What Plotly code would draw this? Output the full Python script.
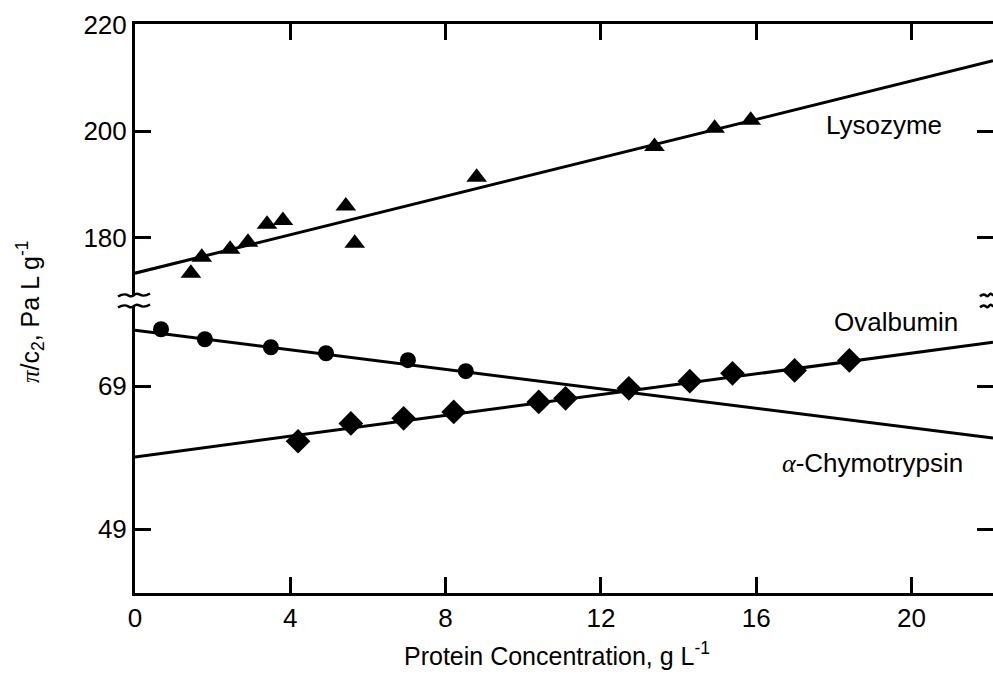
import plotly.graph_objects as go

# ---- data ----
conc_lys = [1.44, 1.72, 2.45, 2.91, 3.40, 3.81, 5.43, 5.66, 8.80, 13.38, 14.93, 15.86]
pi_lys = [173.3, 176.3, 177.8, 179.1, 182.5, 183.2, 185.9, 178.9, 191.3, 197.1, 200.5, 202.0]

conc_ova = [0.67, 1.80, 3.50, 4.92, 7.03, 8.52]
pi_ova = [76.95, 75.55, 74.44, 73.6, 72.63, 71.09]

conc_chy = [4.20, 5.56, 6.92, 8.21, 10.40, 11.09, 12.72, 14.29, 15.39, 16.99, 18.40]
pi_chy = [61.3, 63.8, 64.5, 65.4, 66.8, 67.3, 68.7, 69.7, 70.8, 71.2, 72.6]

fit_x = [0, 22.1]
lys_fit = [173.3, 213.2]
ova_fit = [76.8, 61.75]
chy_fit = [59.1, 75.14]

x_ticks = [0, 4, 8, 12, 16, 20]
upper_ticks = [180, 200, 220]
lower_ticks = [49, 69]

# ---- layout geometry ----
W, H = 993, 696
ML, MR, MT, MB = 135, 0, 24, 103
PW, PH = W - ML - MR, H - MT - MB
BOT = H - MB


def px(xp):
    return (xp - ML) / PW


def py(yp):
    return (BOT - yp) / PH


FONT = "Liberation Sans, Arial, Helvetica, sans-serif"
BLACK = "#000000"

fig = go.Figure()

# upper panel (x2, y)
fig.add_trace(go.Scatter(x=fit_x, y=lys_fit, mode="lines", xaxis="x2", yaxis="y",
                         line=dict(color=BLACK, width=3), showlegend=False, hoverinfo="skip"))
fig.add_trace(go.Scatter(x=conc_lys, y=pi_lys, mode="markers", xaxis="x2", yaxis="y",
                         marker=dict(symbol="triangle-up", size=18, color=BLACK),
                         name="Lysozyme", showlegend=False))

# lower panel (x, y2)
fig.add_trace(go.Scatter(x=fit_x, y=ova_fit, mode="lines", xaxis="x", yaxis="y2",
                         line=dict(color=BLACK, width=3), showlegend=False, hoverinfo="skip"))
fig.add_trace(go.Scatter(x=fit_x, y=chy_fit, mode="lines", xaxis="x", yaxis="y2",
                         line=dict(color=BLACK, width=3), showlegend=False, hoverinfo="skip"))
fig.add_trace(go.Scatter(x=conc_ova, y=pi_ova, mode="markers", xaxis="x", yaxis="y2",
                         marker=dict(symbol="circle", size=16, color=BLACK),
                         name="Ovalbumin", showlegend=False))
fig.add_trace(go.Scatter(x=conc_chy, y=pi_chy, mode="markers", xaxis="x", yaxis="y2",
                         marker=dict(symbol="diamond", size=19, color=BLACK),
                         name="α-Chymotrypsin", showlegend=False))

upper_dom = [py(295), 1.0]
lower_dom = [0.0, py(306)]

axis_common = dict(showline=True, linecolor=BLACK, linewidth=3, ticks="inside",
                   tickcolor=BLACK, tickwidth=3, ticklen=16, showgrid=False,
                   zeroline=False,
                   tickfont=dict(family=FONT, size=26, color=BLACK))

fig.update_layout(
    width=W, height=H,
    margin=dict(l=ML, r=MR, t=MT, b=MB, autoexpand=False),
    paper_bgcolor="white", plot_bgcolor="white",
    showlegend=False,
    xaxis=dict(anchor="y2", domain=[0, 1], range=[0, 22.1], tickvals=x_ticks,
               **axis_common),
    xaxis2=dict(anchor="y", domain=[0, 1], matches="x", side="top", range=[0, 22.1],
                tickvals=x_ticks, showticklabels=False, **axis_common),
    yaxis=dict(anchor="x2", domain=upper_dom, range=[169.2, 220.1], tickvals=upper_ticks,
               mirror="ticks", **axis_common),
    yaxis2=dict(anchor="x", domain=lower_dom, range=[40.1, 80.2], tickvals=lower_ticks,
                mirror="ticks", **axis_common),
)

ann_font = dict(family=FONT, size=26, color=BLACK)
fig.add_annotation(x=19.28, y=201.2, xref="x2", yref="y", text="Lysozyme",
                   showarrow=False, font=ann_font, xanchor="center", yanchor="middle")
fig.add_annotation(x=19.6, y=77.9, xref="x", yref="y2", text="Ovalbumin",
                   showarrow=False, font=ann_font, xanchor="center", yanchor="middle")
fig.add_annotation(x=19.0, y=58.3, xref="x", yref="y2",
                   text="<i><span style='font-family:Liberation Serif, Times New Roman, serif'>α</span></i>-Chymotrypsin",
                   showarrow=False, font=ann_font, xanchor="center", yanchor="middle")

# axis titles
fig.add_annotation(x=px(557), y=py(654), xref="paper", yref="paper",
                   xanchor="center", yanchor="middle",
                   text="Protein Concentration, g L<sup>-1</sup>",
                   showarrow=False, font=dict(family=FONT, size=25, color=BLACK))
fig.add_annotation(x=px(30), y=py(312), xref="paper", yref="paper", textangle=-90,
                   xanchor="center", yanchor="middle",
                   text="<i><span style='font-family:Liberation Serif, Times New Roman, serif'>π</span></i>/c<sub>2</sub>, Pa L g<sup>-1</sup>",
                   showarrow=False, font=dict(family=FONT, size=25, color=BLACK))


# axis-break marks
def tilde(x0, x1, yc, amp):
    xm1 = x0 + (x1 - x0) / 3
    xm2 = x0 + 2 * (x1 - x0) / 3
    return (f"M {px(x0)},{py(yc + amp * 0.3)} "
            f"C {px(xm1)},{py(yc - amp)} {px(xm1)},{py(yc + amp)} {px((x0 + x1) / 2)},{py(yc)} "
            f"C {px(xm2)},{py(yc - amp)} {px(xm2)},{py(yc + amp)} {px(x1)},{py(yc - amp * 0.3)}")


for yc in (295, 306):
    fig.add_shape(type="path", path=tilde(118, 150, yc, 5), xref="paper", yref="paper",
                  line=dict(color=BLACK, width=2.5))
    fig.add_shape(type="path", path=tilde(980, 998, yc, 4), xref="paper", yref="paper",
                  line=dict(color=BLACK, width=2.5))

fig.write_html("out.html", config={"displayModeBar": False},
               post_script="document.body.style.margin='0';document.body.style.padding='0';")
